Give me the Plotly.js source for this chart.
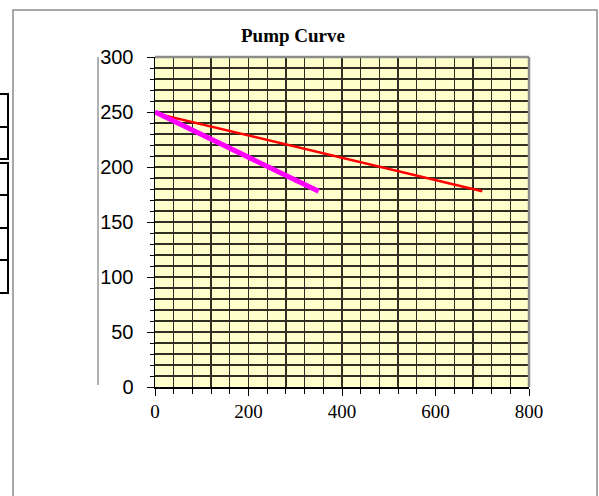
<!DOCTYPE html>
<html>
<head>
<meta charset="utf-8">
<script src="https://cdn.plot.ly/plotly-3.0.1.min.js"></script>
<style>html,body{margin:0;padding:0;background:#fff;}#chart{width:599px;height:496px;}</style>
</head>
<body>
<div id="chart"></div>
<script>
// Data
const flowA = [0, 700];
const headA = [249, 178];
const flowB = [0, 350];
const headB = [250, 178];
const chartTitle = 'Pump Curve';
const yTickVals = [0, 50, 100, 150, 200, 250, 300];
const xTickVals = [0, 200, 400, 600, 800];

// Layout geometry (pixels)
const W = 599, H = 496;
const L = 155, R = 529, T = 57, B = 387;
const pw = R - L, ph = B - T;
const px = v => (v - L) / pw;
const py = v => (B - v) / ph;

const shapes = [];
// outer frame (bottom edge lies below the picture)
shapes.push({type:'rect', xref:'paper', yref:'paper', x0:px(13), x1:px(597), y0:py(510), y1:py(10), line:{color:'#8c8c8c', width:1.5}, layer:'above'});
// plot area top & right border (gray)
shapes.push({type:'line', xref:'paper', yref:'paper', x0:0, x1:1, y0:1, y1:1, line:{color:'#8c8c8c', width:2.5}});
shapes.push({type:'line', xref:'paper', yref:'paper', x0:1, x1:1, y0:0, y1:1, line:{color:'#8c8c8c', width:2.5}});
// stray vertical line left of the labels
shapes.push({type:'line', xref:'paper', yref:'paper', x0:px(98), x1:px(98), y0:py(385), y1:py(57), line:{color:'#666', width:1}});
// clipped table at the left edge
const rows = [[94,127],[127,159],[163,195],[195,228],[228,260],[260,293]];
rows.forEach(r => shapes.push({type:'rect', xref:'paper', yref:'paper', x0:px(-5), x1:px(8), y0:py(r[1]), y1:py(r[0]), line:{color:'#000', width:2}}));

const traces = [
  {x: flowA, y: headA, type:'scatter', mode:'lines', line:{color:'#ff0000', width:2.5}, hoverinfo:'skip'},
  {x: flowB, y: headB, type:'scatter', mode:'lines', line:{color:'#ff00ff', width:5}, hoverinfo:'skip'}
];

const gridCol = '#2e2e22';
const layout = {
  width: W, height: H,
  margin: {l: L, r: W - R, t: T, b: H - B, pad: 0},
  paper_bgcolor: '#ffffff',
  plot_bgcolor: '#ffffcc',
  showlegend: false,
  title: {text: '<b>' + chartTitle + '</b>', font: {family: '"Liberation Serif", "Times New Roman", serif', size: 19, color: '#000'},
          x: px(293), xref: 'paper', xanchor: 'center', y: 1 - 35 / H, yref: 'container', yanchor: 'middle'},
  xaxis: {
    range: [0, 800], tickvals: xTickVals, ticktext: xTickVals.map(String),
    showgrid: true, gridcolor: gridCol, gridwidth: 1.3,
    ticks: 'outside', ticklen: 7, tickcolor: '#000', tickwidth: 1,
    showline: true, linecolor: '#000', linewidth: 1.5,
    zeroline: false, fixedrange: true,
    tickfont: {family: '"Liberation Serif", "Times New Roman", serif', size: 19, color: '#000'},
    ticklabelstandoff: 0,
    minor: {dtick: 40, tick0: 0, showgrid: true, gridcolor: gridCol, gridwidth: 1.3, ticks: 'outside', ticklen: 5, tickcolor: '#000'}
  },
  yaxis: {
    range: [0, 300], tickvals: yTickVals, ticktext: yTickVals.map(String),
    showgrid: true, gridcolor: gridCol, gridwidth: 1.3,
    ticks: 'outside', ticklen: 7, tickcolor: '#000', tickwidth: 1,
    showline: true, linecolor: '#000', linewidth: 1.5,
    zeroline: false, fixedrange: true,
    tickfont: {family: '"Liberation Sans", Arial, sans-serif', size: 20, color: '#000'},
    ticklabelstandoff: 9,
    minor: {dtick: 10, tick0: 0, showgrid: true, gridcolor: gridCol, gridwidth: 1.3, ticks: 'outside', ticklen: 4, tickcolor: '#000'}
  },
  shapes: shapes
};

Plotly.newPlot('chart', traces, layout, {displayModeBar: false, staticPlot: true});
</script>
</body>
</html>
